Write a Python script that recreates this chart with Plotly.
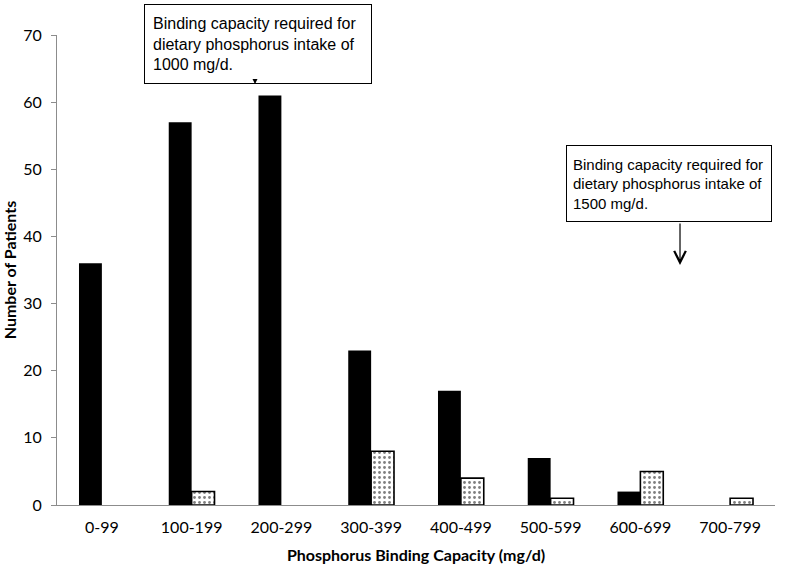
import plotly.graph_objs as go

ranges = ['0-99', '100-199', '200-299', '300-399', '400-499', '500-599', '600-699', '700-799']
solid_counts = [36, 57, 61, 23, 17, 7, 2, None]
dotted_counts = [None, 2, None, 8, 4, 1, 5, 1]

box_1000 = 'Binding capacity required for<br>dietary phosphorus intake of<br>1000 mg/d.'
box_1500 = 'Binding capacity required for<br>dietary phosphorus intake of<br>1500 mg/d.'

data = [
    go.Bar(x=ranges, y=solid_counts, name='Group 1',
           marker=dict(color='black', line=dict(width=0))),
    go.Bar(x=ranges, y=dotted_counts, name='Group 2',
           marker=dict(color='white', line=dict(color='black', width=1.6),
                       pattern=dict(shape='.', size=5, solidity=0.25,
                                    fgcolor='black', bgcolor='white'))),
]

tick_font = dict(family='Lato, Open Sans, sans-serif', size=16, color='black')
title_font = dict(family='Lato, Open Sans, sans-serif', size=16, color='black', weight='bold')
note_font = dict(family='Liberation Sans, Arial, sans-serif', color='black')

layout = go.Layout(
    width=800, height=567,
    margin=dict(l=57, r=25, t=35, b=62),
    paper_bgcolor='white', plot_bgcolor='white',
    barmode='group', bargap=0.49, bargroupgap=0,
    showlegend=False,
    xaxis=dict(showline=True, linecolor='#8c8c8c', linewidth=1, ticks='',
               tickfont=tick_font, showgrid=False, automargin=False, ticklabelstandoff=8,
               title=dict(text='Phosphorus Binding Capacity (mg/d)', font=title_font, standoff=14)),
    yaxis=dict(range=[0, 70], dtick=10, showline=True, linecolor='#8c8c8c', linewidth=1,
               ticks='outside', ticklen=5, tickcolor='#8c8c8c', tickfont=tick_font,
               showgrid=False, zeroline=False, ticklabelstandoff=6, automargin=False,
               title=dict(text='Number of Patients', font=title_font, standoff=4)),
    annotations=[
        dict(text=box_1000, xref='paper', yref='paper', x=0.1212, y=1.066,
             xanchor='left', yanchor='top', showarrow=False, align='left',
             width=210, height=62, borderpad=8, bordercolor='black', borderwidth=1,
             bgcolor='white', font=dict(size=16, **note_font)),
        dict(text='', xref='paper', yref='paper', x=0.2758, y=0.8957,
             showarrow=True, ax=0, ay=-5, arrowhead=2, arrowsize=1, arrowwidth=1,
             arrowcolor='black'),
        dict(text=box_1500, xref='paper', yref='paper', x=0.7089, y=0.7660,
             xanchor='left', yanchor='top', showarrow=False, align='left',
             width=192, height=63, borderpad=6, bordercolor='black', borderwidth=1,
             bgcolor='white', font=dict(size=15, **note_font)),
        dict(text='', xref='paper', yref='paper', x=0.8677, y=0.5106,
             showarrow=True, ax=0, ay=-43, arrowhead=5, arrowsize=1.9, arrowwidth=1.2,
             arrowcolor='black'),
    ],
)

fig = go.Figure(data=data, layout=layout)
# drop the default 8px body margin so the figure fills the window
fig.write_html('out.html', config={'displayModeBar': False},
               post_script="document.body.style.margin='0';")
